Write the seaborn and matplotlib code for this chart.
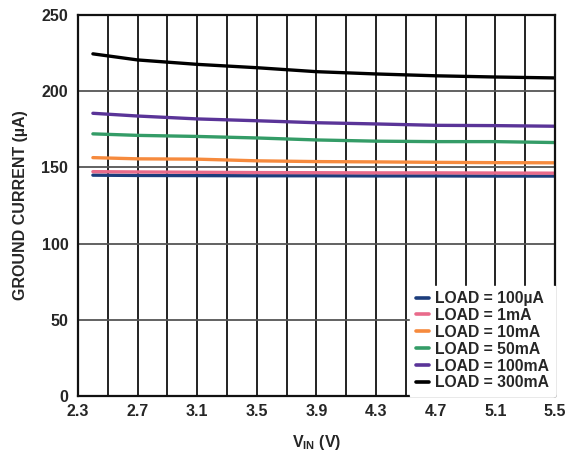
import numpy as np
import pandas as pd
import seaborn as sns
import matplotlib.pyplot as plt
from matplotlib.ticker import FixedLocator, MultipleLocator

# supply voltage (V)
vin = [2.4, 2.7, 3.1, 3.5, 3.9, 4.3, 4.7, 5.1, 5.5]

# ground current (uA) per load
load_100ua = [144.9, 144.7, 144.6, 144.5, 144.5, 144.4, 144.4, 144.3, 144.3]
load_1ma = [147.2, 147.0, 146.8, 146.6, 146.5, 146.4, 146.4, 146.3, 146.2]
load_10ma = [156.4, 155.6, 155.4, 154.3, 153.8, 153.6, 153.3, 153.1, 153.0]
load_50ma = [172.0, 171.0, 170.3, 169.3, 168.0, 167.2, 166.9, 166.9, 166.3]
load_100ma = [185.5, 183.7, 181.8, 180.6, 179.3, 178.5, 177.6, 177.4, 177.0]
load_300ma = [224.5, 220.5, 217.6, 215.4, 212.8, 211.3, 210.1, 209.3, 208.7]

labels = ['LOAD = 100µA', 'LOAD = 1mA', 'LOAD = 10mA',
          'LOAD = 50mA', 'LOAD = 100mA', 'LOAD = 300mA']
series = [load_100ua, load_1ma, load_10ma, load_50ma, load_100ma, load_300ma]
colors = ['#1c3d7c', '#e96b8b', '#f68a3d', '#349c67', '#5a3498', '#000000']

xticks = [2.3, 2.7, 3.1, 3.5, 3.9, 4.3, 4.7, 5.1, 5.5]
xminor = [2.5, 2.9, 3.3, 3.7, 4.1, 4.5, 4.9, 5.3]

df = pd.concat([pd.DataFrame({'vin': vin, 'ignd': s, 'load': lab})
                for lab, s in zip(labels, series)], ignore_index=True)

sns.set_style('white')
plt.rcParams['font.family'] = ['Liberation Sans', 'DejaVu Sans']
plt.rcParams['font.weight'] = 'bold'
plt.rcParams['mathtext.fontset'] = 'custom'
plt.rcParams['mathtext.rm'] = 'Liberation Sans:bold'
plt.rcParams['mathtext.it'] = 'Liberation Sans:bold'
plt.rcParams['mathtext.bf'] = 'Liberation Sans:bold'

fig = plt.figure(figsize=(5.76, 4.54), dpi=100)
ax = fig.add_axes([0.1354, 0.1278, 0.8281, 0.8392])

sns.lineplot(data=df, x='vin', y='ignd', hue='load', hue_order=labels,
             palette=dict(zip(labels, colors)), linewidth=2.4, ax=ax)

ax.set_xlim(2.3, 5.5)
ax.set_ylim(0, 250)
ax.set_xticks(xticks)
ax.set_xticklabels([f'{t:.1f}' for t in xticks])
ax.xaxis.set_minor_locator(FixedLocator(xminor))
ax.yaxis.set_major_locator(MultipleLocator(50))
ax.grid(True, which='both', axis='x', color='#111111', linewidth=1.3)
ax.grid(True, which='major', axis='y', color='#555555', linewidth=1.3)
ax.set_axisbelow(True)
for sp in ax.spines.values():
    sp.set_color('#111111')
    sp.set_linewidth(1.6)
ax.tick_params(axis='both', which='both', length=0, labelsize=11.5)
ax.tick_params(axis='y', pad=7)
ax.tick_params(axis='x', pad=6)

ax.set_xlabel(r'V$_\mathrm{IN}$ (V)', fontsize=11.5, fontweight='bold', labelpad=10)
ax.set_ylabel('GROUND CURRENT (µA)', fontsize=11.5, fontweight='bold', labelpad=10)

leg = ax.legend(loc='lower right', fontsize=11.3, frameon=True, fancybox=False,
                edgecolor='white', framealpha=1, borderaxespad=0.0,
                borderpad=0.35, labelspacing=0.12, handlelength=0.85,
                handletextpad=0.4)
for h in leg.get_lines():
    h.set_linewidth(2.6)

fig.savefig('out.png', dpi=100)
